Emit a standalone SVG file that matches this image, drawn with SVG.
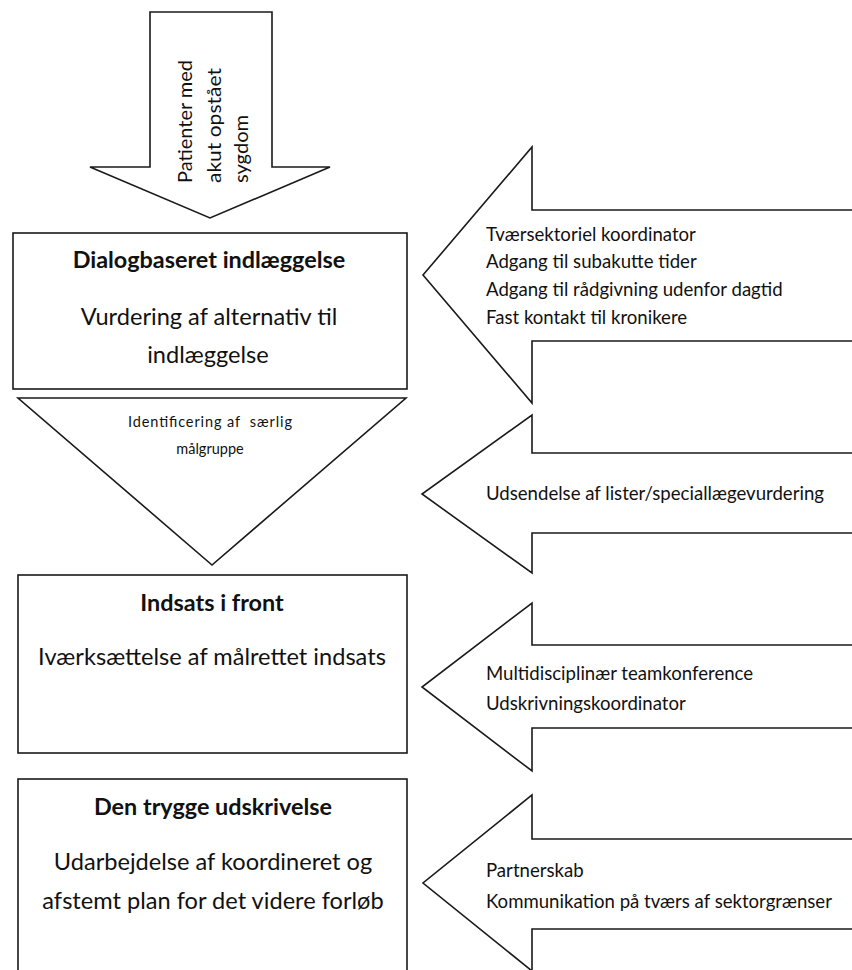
<svg xmlns="http://www.w3.org/2000/svg" width="852" height="970" viewBox="0 0 852 970">
<style>
.shape{fill:#fff;stroke:#1a1a1a;stroke-width:1.6;stroke-linejoin:miter}
text{font-family:Lato,"Open Sans","Liberation Sans",sans-serif;fill:#111}
.title{font-size:23.4px;font-weight:bold;text-anchor:middle}
.body{font-size:23.6px;text-anchor:middle}
.side{font-size:18.6px}
.tri{font-size:14.5px;text-anchor:middle}
.rot{font-size:20px}
</style>
<rect width="852" height="970" fill="#fff"/>
<g id="arrow-patienter">
<polygon class="shape" points="150,12 272,12 272,167 330,167 210,218 90,167 150,167"/>
<text class="rot" transform="translate(192,183) rotate(-90)" textLength="123" lengthAdjust="spacingAndGlyphs">Patienter med</text>
<text class="rot" transform="translate(221,183) rotate(-90)" textLength="115" lengthAdjust="spacingAndGlyphs">akut opstået</text>
<text class="rot" transform="translate(248,183) rotate(-90)" textLength="68" lengthAdjust="spacingAndGlyphs">sygdom</text>
</g>
<g id="box-dialog">
<rect class="shape" x="13" y="233" width="394" height="156"/>
<text class="title" x="209" y="268">Dialogbaseret indlæggelse</text>
<text class="body" x="209" y="325">Vurdering af alternativ til</text>
<text class="body" x="208" y="363">indlæggelse</text>
</g>
<g id="triangle-maalgruppe">
<polygon class="shape" points="18,398 406,398 212,565"/>
<text class="tri" x="210" y="427" textLength="164" lengthAdjust="spacing" xml:space="preserve">Identificering af  særlig</text>
<text class="tri" x="210" y="454">målgruppe</text>
</g>
<g id="box-front">
<rect class="shape" x="18" y="575" width="389" height="178"/>
<text class="title" x="212" y="611">Indsats i front</text>
<text class="body" x="212" y="665">Iværksættelse af målrettet indsats</text>
</g>
<g id="box-udskrivelse">
<rect class="shape" x="18" y="779" width="389" height="200"/>
<text class="title" x="213" y="815">Den trygge udskrivelse</text>
<text class="body" x="213" y="870">Udarbejdelse af koordineret og</text>
<text class="body" x="213" y="909">afstemt plan for det videre forløb</text>
</g>
<g id="arrow-koordinator">
<polygon class="shape" points="860,210 532,210 532,147 423,275 532,403 532,341 860,341"/>
<text class="side" x="486" y="241">Tværsektoriel koordinator</text>
<text class="side" x="486" y="268">Adgang til subakutte tider</text>
<text class="side" x="486" y="296">Adgang til rådgivning udenfor dagtid</text>
<text class="side" x="486" y="324">Fast kontakt til kronikere</text>
</g>
<g id="arrow-lister">
<polygon class="shape" points="860,453 532,453 532,415 422,494 532,573 532,533 860,533"/>
<text class="side" x="486" y="500">Udsendelse af lister/speciallægevurdering</text>
</g>
<g id="arrow-team">
<polygon class="shape" points="860,645 532,645 532,603 422,687 532,771 532,728 860,728"/>
<text class="side" x="486" y="680">Multidisciplinær teamkonference</text>
<text class="side" x="486" y="710">Udskrivningskoordinator</text>
</g>
<g id="arrow-partnerskab">
<polygon class="shape" points="860,839 532,839 532,795 423,883 532,971 532,929 860,929"/>
<text class="side" x="486" y="877">Partnerskab</text>
<text class="side" x="486" y="908">Kommunikation på tværs af sektorgrænser</text>
</g>
</svg>
